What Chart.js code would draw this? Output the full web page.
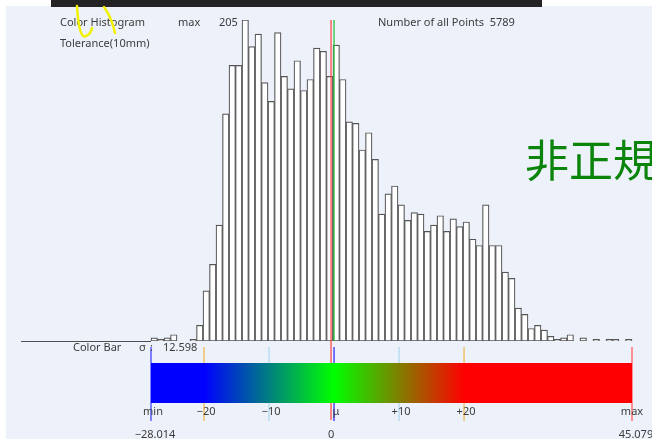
<!DOCTYPE html>
<html>
<head>
<meta charset="utf-8">
<script src="https://cdn.jsdelivr.net/npm/chart.js@4.4.1/dist/chart.umd.min.js"></script>
<style>
  html, body { margin: 0; padding: 0; background: #fff; }
  #wrap { position: relative; width: 652px; height: 439px; }
</style>
</head>
<body>
<div id="wrap"><canvas id="hist"></canvas></div>
<script>
// histogram bins, 1 unit wide each
const binStart = -27.7;
const binWidth = 1;
const counts = [
  2, 1, 2, 4, 0, 0, 1, 10, 32, 49, 74, 145, 176, 176, 205, 188, 196, 165,
  153, 197, 169, 161, 179, 160, 167, 187, 185, 169, 189, 167, 140, 139, 122, 133, 116, 81, 94,
  99, 87, 77, 82, 81, 70, 74, 80, 70, 78, 73, 76, 65, 61, 87, 61, 61, 44,
  40, 21, 17, 8, 10, 7, 3, 1, 2, 4, 0, 2, 0, 1, 0, 1, 1, 0, 1
];

const meanValue = 0.46;
const sigmaValue = 12.598;
const minValue = -28.014;
const maxValue = 45.079;
const maxCount = 205;
const totalPoints = 5789;

// colour bar ticks: offsets from the mean
const tickLabels = ['\u2212' + '20', '\u2212' + '10', '\u03bc', '+10', '+20'];
const tickOffsets = [-20, -10, 0, 10, 20];
const tickColors = ['#f3c06a', '#bcdcef', '#4a4aff', '#bcdcef', '#f3c06a'];

const binEnd = binStart + counts.length * binWidth;
const barData = counts.map((c, i) => ({ x: binStart + (i + 0.5) * binWidth, y: c }));

const FONT = '"Noto Sans", "DejaVu Sans", sans-serif';
const TXT = '#3c3c3c';

const decor = {
  id: 'decor',
  beforeDraw(chart) {
    const ctx = chart.ctx;
    ctx.save();
    ctx.fillStyle = '#fff';
    ctx.fillRect(0, 0, chart.width, chart.height);
    ctx.fillStyle = '#edf1fa';
    ctx.fillRect(6, 6, chart.width - 6, chart.height - 6);
    ctx.fillStyle = '#242424';
    ctx.fillRect(51, 0, 491, 7);
    ctx.restore();
  },
  afterDatasetsDraw(chart) {
    const ctx = chart.ctx;
    const xs = chart.scales.x;
    const area = chart.chartArea;
    const px = v => xs.getPixelForValue(v);
    const base = area.bottom;
    ctx.save();

    // axis line left of the bins
    ctx.strokeStyle = '#505050';
    ctx.lineWidth = 1.2;
    ctx.beginPath();
    ctx.moveTo(area.left, base + 0.5);
    ctx.lineTo(px(binStart), base + 0.5);
    ctx.stroke();

    // zero and mean lines through histogram
    ctx.lineWidth = 1.5;
    ctx.strokeStyle = 'rgba(255,70,70,0.85)';
    ctx.beginPath(); ctx.moveTo(px(0), area.top); ctx.lineTo(px(0), 420); ctx.stroke();
    ctx.strokeStyle = 'rgba(40,190,60,0.85)';
    ctx.beginPath(); ctx.moveTo(px(meanValue), area.top); ctx.lineTo(px(meanValue), base); ctx.stroke();

    // colour bar tick lines
    const lineTop = 347, lineBot = 421;
    const vline = (x, col, top) => {
      ctx.strokeStyle = col;
      ctx.beginPath(); ctx.moveTo(x, top); ctx.lineTo(x, lineBot); ctx.stroke();
    };
    vline(px(binStart), '#5a5aff', lineTop);
    vline(px(binEnd), '#ff7070', lineTop);
    tickOffsets.forEach((o, i) => vline(px(meanValue + o), tickColors[i], lineTop));

    // colour bar
    const cbTop = 363, cbBot = 403;
    const g = ctx.createLinearGradient(px(binStart), 0, px(binEnd), 0);
    const span = binEnd - binStart;
    const stop = v => Math.min(1, Math.max(0, (v - binStart) / span));
    g.addColorStop(0, '#0000ff');
    g.addColorStop(stop(meanValue - 20), '#0000ff');
    g.addColorStop(stop(meanValue), '#00ff00');
    g.addColorStop(stop(meanValue + 20), '#ff0000');
    g.addColorStop(1, '#ff0000');
    ctx.fillStyle = g;
    ctx.fillRect(px(binStart), cbTop, px(binEnd) - px(binStart), cbBot - cbTop);

    // labels
    ctx.fillStyle = TXT;
    ctx.font = '11px ' + FONT;
    ctx.textBaseline = 'middle';
    ctx.textAlign = 'left';
    ctx.fillText('Color Histogram', 60, 23);
    ctx.fillText('max', 178, 23);
    ctx.fillText(String(maxCount), 219, 23);
    ctx.fillText('Tolerance(10mm)', 60, 44);
    ctx.fillText('Number of all Points  ' + totalPoints, 378, 23);
    ctx.fillText('Color Bar', 73, 348);
    ctx.fillText('\u03c3', 139, 348);
    ctx.fillText(':', 150, 348);
    ctx.fillText(sigmaValue.toFixed(3), 163, 348);

    ctx.textAlign = 'center';
    ctx.fillText('min', px(binStart) + 2, 412);
    ctx.fillText('max', px(binEnd), 412);
    tickLabels.forEach((t, i) => ctx.fillText(t, px(meanValue + tickOffsets[i]) + 2, 412));
    ctx.fillText('\u2212' + Math.abs(minValue).toFixed(3), px(binStart) + 4, 435);
    ctx.fillText('0', px(0), 435);
    ctx.fillText(maxValue.toFixed(3), px(binEnd) + 4, 435);

    // handwritten yellow marks
    ctx.strokeStyle = '#f2f200';
    ctx.lineWidth = 2.5;
    ctx.lineCap = 'round';
    ctx.beginPath();
    ctx.moveTo(77, 6);
    ctx.quadraticCurveTo(79, 40, 86, 36);
    ctx.quadraticCurveTo(91, 34, 92, 28);
    ctx.stroke();
    ctx.beginPath();
    ctx.moveTo(104, 7);
    ctx.quadraticCurveTo(112, 18, 115, 33);
    ctx.stroke();

    // green note
    ctx.fillStyle = '#0a840a';
    ctx.textAlign = 'left';
    ctx.textBaseline = 'alphabetic';
    ctx.font = '44px "Noto Sans CJK JP", sans-serif';
    ctx.fillText('非正規', 525, 177);
    ctx.restore();
  }
};

new Chart(document.getElementById('hist'), {
  type: 'bar',
  data: {
    datasets: [{
      data: barData,
      backgroundColor: '#ffffff',
      borderColor: '#555555',
      borderWidth: 1.2,
      borderSkipped: false,
      barPercentage: 1,
      categoryPercentage: 1
    }]
  },
  options: {
    responsive: true,
    maintainAspectRatio: false,
    animation: false,
    layout: { padding: { top: 20, bottom: 98, left: 21, right: 0 } },
    plugins: { legend: { display: false }, tooltip: { enabled: false } },
    scales: {
      x: { type: 'linear', offset: false, min: binStart - 20, max: binStart + 501 / 6.5, display: false },
      y: { min: 0, max: maxCount, display: false }
    }
  },
  plugins: [decor]
});
</script>
</body>
</html>
